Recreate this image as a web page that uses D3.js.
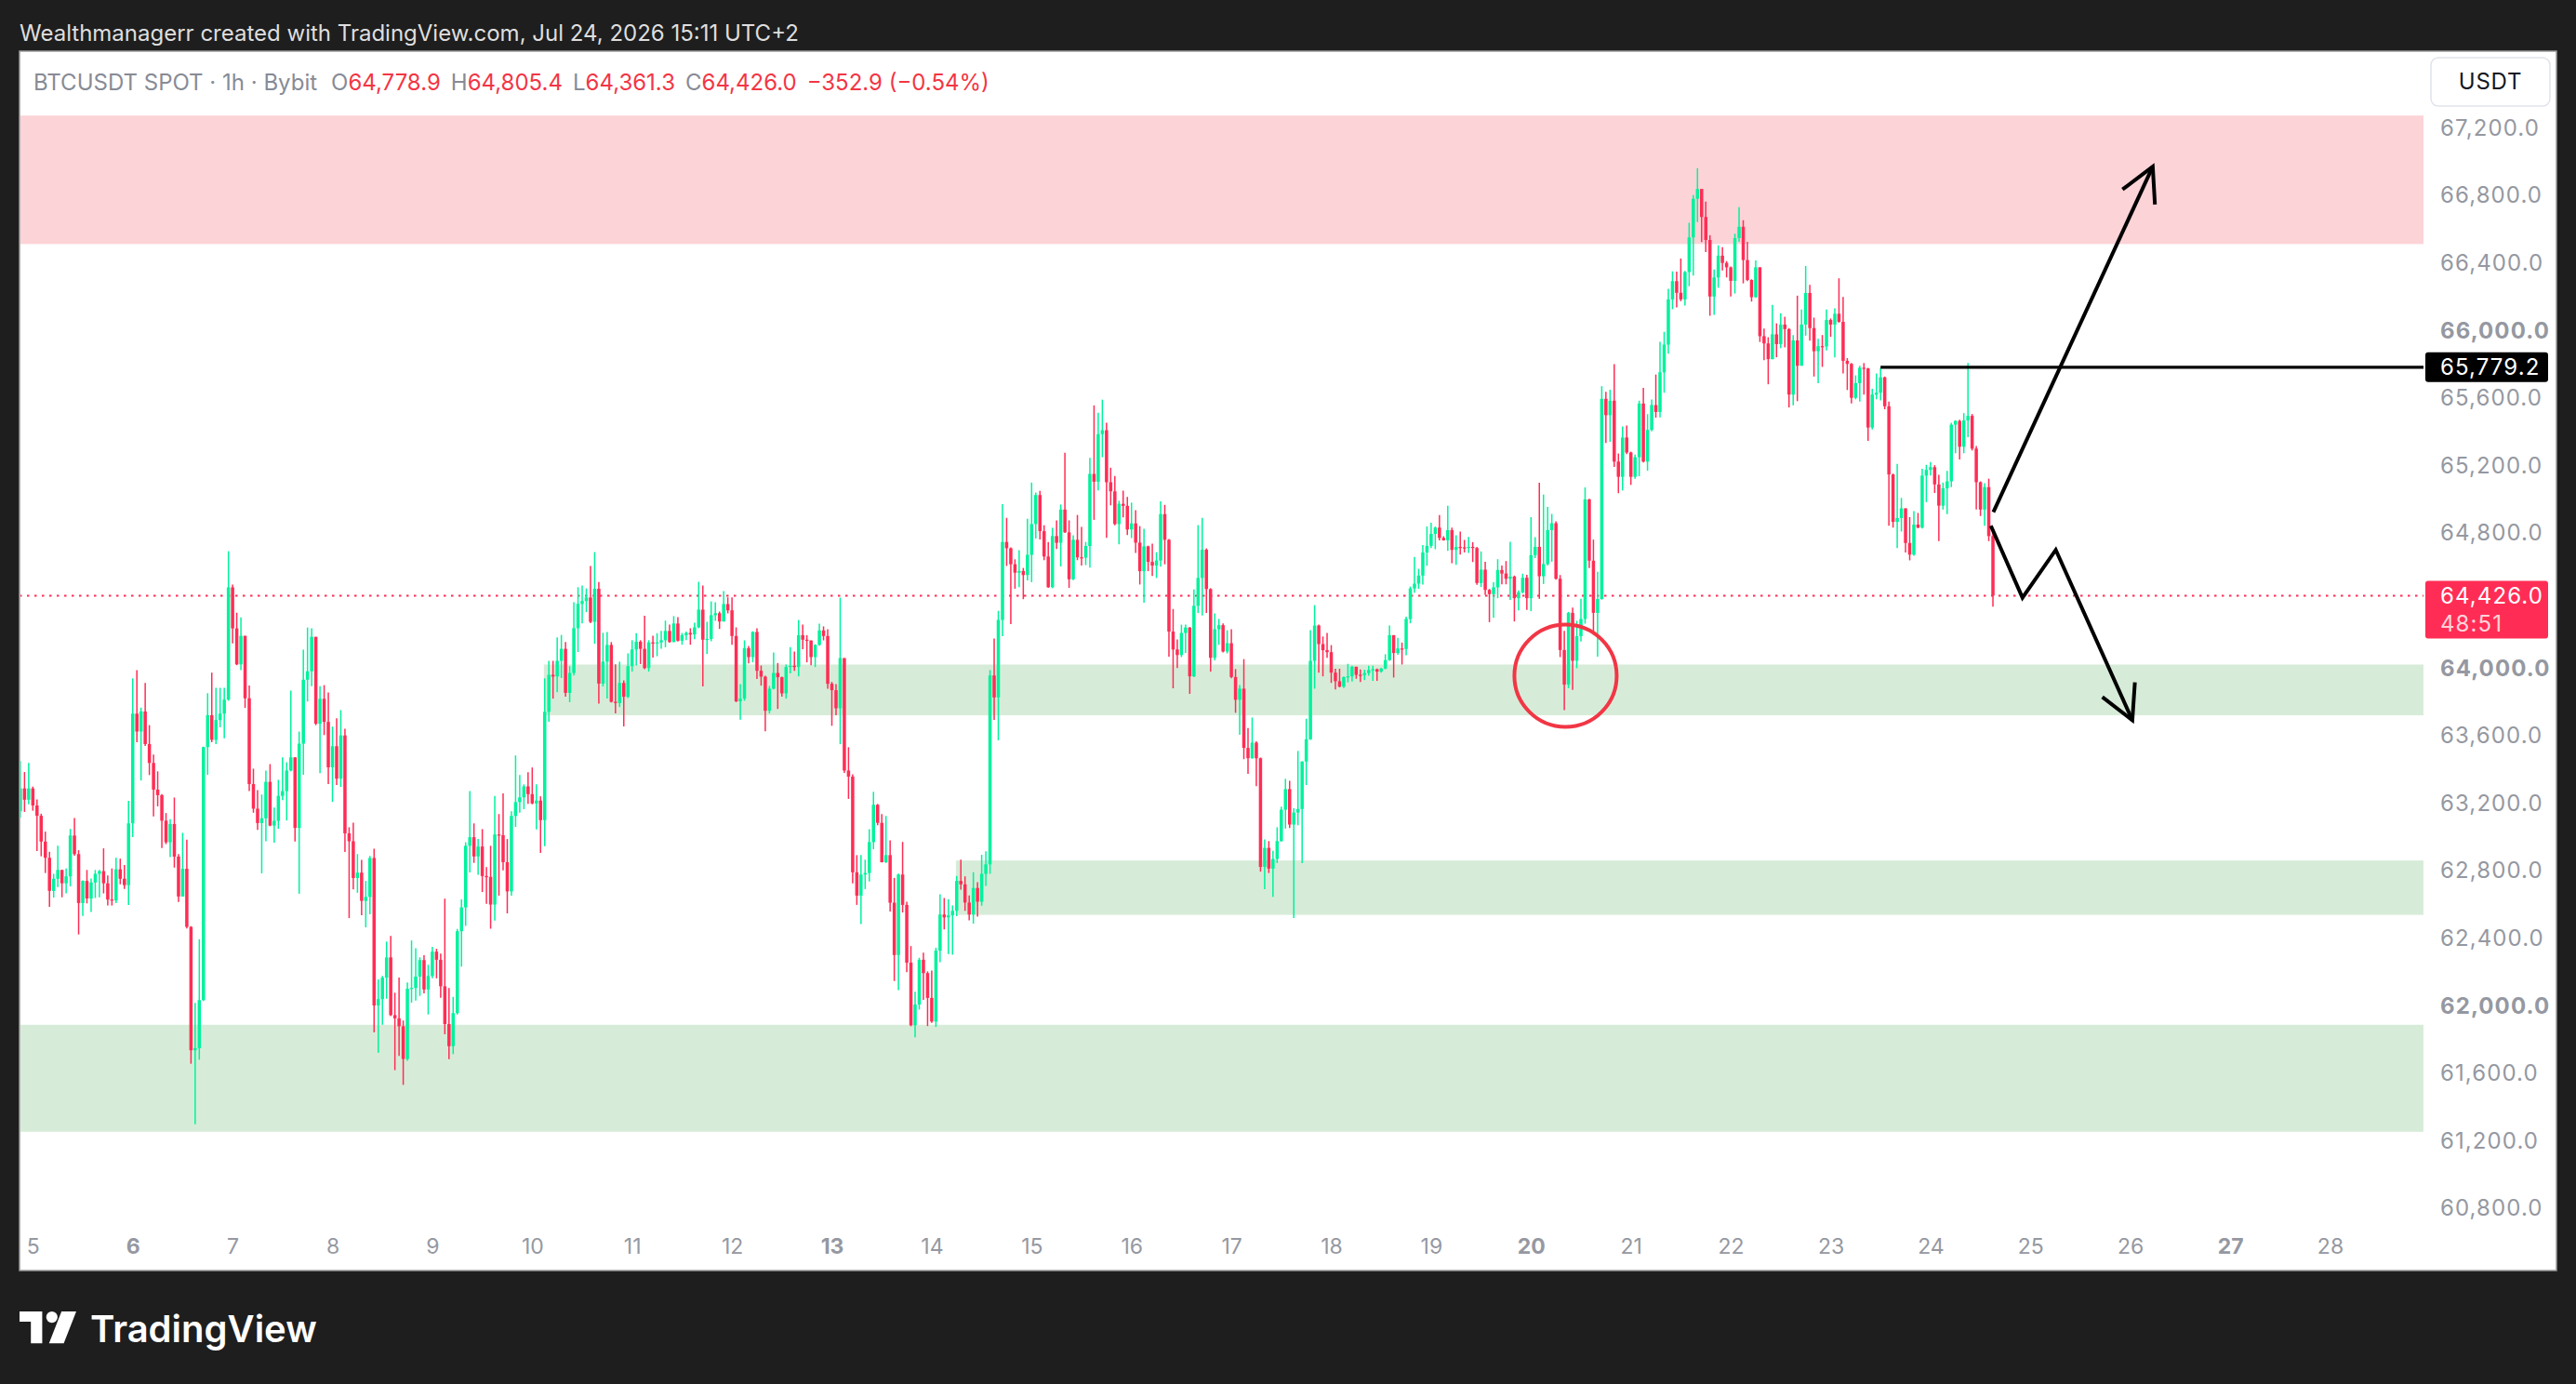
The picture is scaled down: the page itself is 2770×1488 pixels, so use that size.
<!DOCTYPE html>
<html><head><meta charset="utf-8">
<script src="https://cdn.jsdelivr.net/npm/d3@7/dist/d3.min.js"></script>
<style>html,body{margin:0;padding:0;background:#1e1e1e;overflow:hidden}</style>
</head><body><svg id="chart" width="2770" height="1488"></svg>
<script>
// ---------------- DATA ----------------
const headerText = "Wealthmanagerr created with TradingView.com, Jul 24, 2026 15:11 UTC+2";
const symbolText = "BTCUSDT SPOT \u00b7 1h \u00b7 Bybit";
const currencyLabel = "USDT";
const countdownText = "48:51";
// hourly candles, first candle = hour -3 relative to Jul 5 00:00
const firstHour = -3;
const firstOpen = 63149;
const closes = [
63284,63217,63284,63183,63122,62969,62873,62677,62749,62801,62722,62763,63005,62895,62605,62736,62632,62727,62778,62794,62722,62626,62620,62805,62749,62711,63077,63727,63621,63740,63547,63435,63277,63244,63093,62965,63073,62880,62644,62808,62464,61733,61745,62030,63529,63718,63572,63689,63727,63810,64475,64232,64019,
64188,63818,63310,63164,63079,63107,63323,63064,63092,63240,63268,63390,63468,63050,63549,63928,63978,64182,63667,63815,63678,63409,63534,63342,63598,63018,62971,62753,62785,62618,62641,62872,61998,62036,62163,62283,61941,61922,61875,61681,62097,62102,62169,62267,62093,62173,62317,62269,62112,61888,61757,61953,62438,
62579,62944,62995,62881,62940,62765,62760,62596,63011,63007,62847,62674,63121,63203,63231,63296,63250,63195,63212,63096,63738,63957,63947,64040,64111,63850,63968,64233,64377,64394,64415,64271,64467,63905,64035,64134,63797,63790,63909,63827,64008,64107,64153,64111,63997,64149,64145,64149,64162,64217,64151,64261,
64159,64192,64205,64196,64238,64343,64165,64170,64310,64322,64273,64376,64339,64187,63800,63816,64115,64062,64211,63981,63946,63744,63875,63968,63943,63847,64003,64011,64003,64192,64165,64160,64062,64134,64220,64187,63904,63866,63759,64056,63390,63354,62787,62649,62774,62783,62966,63187,63080,62847,62889,62607,62297,62774,
62594,62252,61881,62004,62269,62190,62043,61903,62323,62537,62520,62532,62559,62736,62716,62608,62537,62694,62613,62778,62834,63953,63823,64282,64744,64707,64612,64562,64572,64548,64668,64850,65022,64808,64658,64476,64779,64739,64936,64801,64523,64757,64653,64651,64720,65147,65101,65383,65406,65098,65044,64850,64970,
64958,64818,64854,64740,64571,64718,64626,64604,64634,64909,64757,64213,64107,64074,64205,64237,63948,64366,64531,64698,64465,64058,64227,64251,64095,64144,63944,63809,63875,63524,63463,63555,63463,62819,62932,62809,62866,62972,63158,63280,63070,63141,63162,63443,63575,64040,64249,64139,64103,64091,63970,63919,63887,
63943,63948,64005,63957,63955,63967,63985,63990,63976,63994,64044,64192,64086,64113,64110,64288,64469,64497,64545,64682,64721,64792,64829,64768,64754,64814,64697,64715,64712,64708,64715,64708,64501,64580,64460,64435,64475,64578,64557,64526,64539,64411,64446,64532,64411,64666,64715,64541,64613,64814,64855,64526,64104,
63899,64324,64040,64186,64288,64996,64633,64324,64406,65592,65495,65581,65220,65130,65363,65274,65130,65246,65564,65220,65408,65555,65514,65749,65913,66181,66289,66220,66181,66343,66548,66777,66835,66669,66533,66198,66311,66440,66397,66371,66291,66544,66611,66414,66296,66194,66371,65963,65920,65827,65974,65916,66032,
66005,65617,65938,65788,66032,66219,66011,65874,65904,65902,66059,66032,66096,66048,65817,65799,65598,65685,65776,65772,65422,65617,65628,65719,65548,65144,64863,64886,64943,64738,64669,64847,64829,65137,65171,65187,65085,64959,65062,65103,65439,65461,65308,65464,65491,65297,65098,64936,65069,64778.9,64426.0
];
const highs = [
63446,63381,63435,63295,63219,63134,63028,62909,62778,62945,62801,62810,63044,63109,62918,62740,62801,62751,62801,62801,62929,62769,62810,62873,62868,62830,63210,63936,63985,63763,63909,63659,63484,63385,63250,63138,63102,63230,62895,63021,62981,62468,62014,62390,63531,63848,63970,63880,63880,63880,64689,64491,64325,
64298,64188,63894,63401,63274,63248,63390,63428,63170,63335,63468,63439,63864,63468,63621,64106,64237,64232,64182,63890,63896,63852,63650,63699,63748,63638,63054,63081,62895,62861,62736,62884,62927,62152,62173,62377,62410,62074,62163,61909,62135,62383,62337,62283,62296,62239,62345,62334,62305,62631,62102,62049,62451,
62626,62965,63268,63077,62984,63043,62818,62944,63239,63132,63254,62984,63148,63479,63363,63308,63380,63408,63308,63237,63936,64040,64040,64179,64193,64151,64008,64387,64476,64486,64469,64602,64684,64507,64206,64210,64151,64019,64035,63924,64084,64162,64204,64162,64307,64162,64189,64204,64217,64278,64255,64305,
64299,64205,64214,64233,64266,64508,64486,64271,64392,64387,64332,64453,64416,64416,64238,63902,64161,64128,64215,64233,64012,63952,63891,64089,64027,63946,64018,64121,64095,64282,64255,64192,64161,64138,64260,64244,64227,63915,63902,64414,64056,63528,63368,62889,62889,62862,63043,63264,63192,63132,63121,62977,62754,62779,
62967,62613,62350,62080,62281,62311,62200,62205,62340,62657,62635,62628,62591,62766,62862,62763,62650,62788,62729,62891,62911,63985,64172,64336,64968,64887,64712,64641,64695,64590,64882,65096,65037,65047,64843,64744,64828,64872,64966,65273,64872,64784,64904,64833,64744,65243,65553,65509,65587,65450,65184,65135,64988,
65048,65011,64977,64932,64838,64822,64722,64734,64683,64985,64964,64761,64347,64166,64254,64254,64240,64463,64844,64887,64706,64470,64321,64288,64262,64221,64227,63991,63897,64050,63642,63704,63563,63467,62982,62972,62915,63054,63176,63341,63329,63166,63506,63445,63697,64221,64370,64255,64184,64205,64133,63993,63993,
63948,64022,64011,64005,63989,63987,64011,64011,63994,63999,64079,64249,64192,64176,64148,64302,64480,64655,64585,64726,64836,64858,64836,64904,64778,64958,64829,64783,64805,64756,64774,64743,64715,64688,64627,64466,64506,64642,64605,64631,64745,64545,64457,64556,64550,64891,64772,65095,65025,64952,64910,64866,64548,
64217,64330,64355,64277,64407,65067,65000,64758,64568,65667,65633,65646,65797,65268,65428,65434,65279,65261,65581,65657,65501,65588,65736,65929,65989,66244,66347,66345,66423,66350,66635,66799,66958,66835,66760,66561,66358,66501,66490,66408,66376,66570,66727,66650,66522,66300,66412,66371,66008,65957,66149,66039,66099,
66078,66011,65970,66203,66121,66379,66267,66073,65947,65970,66121,66068,66128,66306,66196,65833,65804,65731,65788,65804,65776,65651,65742,65776,65724,65575,65149,65206,65005,64943,64891,64927,64916,65178,65201,65217,65199,65142,65096,65165,65450,65465,65468,65507,65804,65502,65313,65103,65092,65119,64805.4
];
const lows = [
63111,63145,63190,63152,62913,62882,62783,62583,62637,62700,62639,62662,62704,62886,62419,62529,62603,62552,62635,62639,62662,62590,62590,62605,62716,62689,62594,62996,63558,63331,63536,63363,63118,63178,62931,62954,62877,62815,62612,62644,62455,61653,61295,61677,62025,63365,63558,63547,63646,63581,63803,64143,64014,
63985,63761,63268,63140,63039,62781,62971,63060,62963,63045,63215,63094,63386,62969,62660,63365,63799,63890,63659,63375,63600,63310,63204,63304,63293,62908,62516,62686,62666,62533,62461,62538,61839,61718,61884,62038,61935,61615,61699,61528,61670,62015,62027,62055,62070,61945,62159,62159,62044,61828,61680,61710,61945,
62228,62470,62786,62843,62773,62670,62601,62453,62501,62649,62799,62544,62649,63056,63140,63161,63193,63190,63041,62902,62942,63679,63816,63854,63938,63827,63795,63953,64092,64261,64328,64263,64141,63787,63888,63816,63793,63728,63766,63652,63820,63976,64012,64021,63990,63976,64059,64067,64111,64120,64147,64151,
64154,64135,64163,64135,64168,64233,63888,64080,64156,64277,64229,64273,64321,64135,63795,63691,63803,64025,64031,63932,63893,63623,63728,63870,63755,63827,63816,63965,63981,63948,64108,64031,64014,64003,64130,64161,63875,63655,63717,63546,63376,63222,62721,62594,62480,62688,62732,62924,63066,62845,62842,62555,62143,62089,
62549,62195,61875,61810,61974,62031,61876,61895,61871,62254,62449,62303,62299,62527,62684,62559,62503,62483,62525,62589,62707,62778,63690,63569,64186,64602,64258,64467,64476,64405,64516,64506,64764,64759,64636,64472,64470,64703,64599,64798,64472,64518,64636,64604,64607,64592,64875,65049,65246,64769,64961,64843,64730,
64889,64785,64767,64679,64492,64384,64571,64543,64531,64598,64612,64064,63877,63997,64062,64087,63844,63944,64323,64309,64323,63976,64042,64135,64090,64084,63936,63732,63602,63457,63370,63460,63298,62791,62687,62783,62642,62842,62968,63046,63050,62516,63066,62842,63304,63571,63875,63970,63948,64058,63909,63871,63883,
63879,63912,63917,63934,63915,63926,63952,63921,63921,63970,63990,64040,63941,64075,64018,64073,64262,64444,64466,64491,64603,64708,64701,64754,64752,64691,64618,64609,64669,64682,64679,64625,64490,64477,64430,64269,64295,64411,64493,64493,64401,64273,64339,64440,64341,64334,64649,64407,64495,64605,64627,64520,64062,
63748,63878,63867,63996,64154,64260,64590,64195,64065,64402,65331,65337,65188,65033,65050,65264,65082,65119,65134,65215,65166,65400,65480,65482,65628,65859,66123,66134,66170,66145,66259,66322,66639,66520,66462,66084,66090,66250,66352,66311,66198,66216,66522,66276,66289,66168,66190,65929,65821,65678,65827,65838,65892,
65897,65541,65553,65578,65788,65966,65936,65724,65685,65781,65879,65959,65838,66043,65742,65644,65564,65589,65575,65617,65343,65411,65589,65582,65530,64840,64829,64708,64806,64681,64635,64662,64825,64824,64980,65137,65034,64749,64936,64909,65069,65270,65233,65270,65365,65286,64936,64898,64840,64749,64361.3
];
// axis labels
const dayLabels = [5,6,7,8,9,10,11,12,13,14,15,16,17,18,19,20,21,22,23,24,25,26,27,28];
const boldDays = [6,13,20,27];
const priceTicks = [60800,61200,61600,62000,62400,62800,63200,63600,64000,64400,64800,65200,65600,66000,66400,66800,67200];
const boldPrices = [62000,64000,66000];
// zones (price bands); startHour null = from the left edge
const zoneHigh = [67270, 64018, 62857, 61884];
const zoneLow = [66509, 63717, 62535, 61250];
const zoneStartHour = [null, 122.8, 221.8, null];
const zoneKind = ['supply','demand','demand','demand'];
// drawings
const levelPrice = 65779.2;
const levelStartHour = 444;
const circleHour = 368.3, circlePrice = 63952;
const upArrow = [[471.1, 64921], [509.4, 66968]];
const downArrow = [[470.5, 64840], [478.1, 64414], [486.1, 64697], [504.5, 63688]];

// ---------------- DRAW ----------------
const W = 2770, H = 1488;
const FONT = "Inter, 'Noto Sans', 'DejaVu Sans', sans-serif";
const GREEN = "#00f29d", RED = "#ff2d55", LEGRED = "#f23645";
const svg = d3.select('#chart');
svg.append('rect').attr('width', W).attr('height', H).attr('fill', '#1e1e1e');

svg.append('text').attr('x', 21).attr('y', 44).attr('fill', '#dedede')
  .attr('font-size', 24).attr('font-family', FONT).text(headerText);

const panel = {x: 21, y: 55, w: 2728, h: 1311};
svg.append('rect').attr('x', panel.x).attr('y', panel.y).attr('width', panel.w).attr('height', panel.h)
  .attr('fill', '#ffffff').attr('stroke', '#9a9a9a').attr('stroke-width', 1.5);

const plot = {left: 21, right: 2606, top: 56, bottom: 1321};
const x = d3.scaleLinear().domain([-3.2, 574.46]).range([plot.left, plot.right]);
const y = d3.scaleLinear().domain([60676, 67646]).range([plot.bottom, plot.top]);

const defs = svg.append('defs');
defs.append('clipPath').attr('id', 'plotclip').append('rect')
  .attr('x', plot.left + 1).attr('y', plot.top).attr('width', plot.right - plot.left - 1).attr('height', plot.bottom - plot.top);
const mk = defs.append('marker').attr('id', 'chev').attr('viewBox', '-12 -7 14 14')
  .attr('refX', 0).attr('refY', 0).attr('markerWidth', 14).attr('markerHeight', 14)
  .attr('orient', 'auto').attr('markerUnits', 'strokeWidth').style('overflow', 'visible');
mk.append('path').attr('d', 'M-9,-4.8 L0,0 L-9,4.8').attr('fill', 'none').attr('stroke', '#000')
  .attr('stroke-width', 1).attr('stroke-linejoin', 'miter');

const g = svg.append('g').attr('clip-path', 'url(#plotclip)');

// zones
zoneHigh.forEach((hi, i) => {
  const x0 = zoneStartHour[i] === null ? plot.left : x(zoneStartHour[i]);
  g.append('rect').attr('x', x0).attr('y', y(hi)).attr('width', plot.right - x0)
    .attr('height', y(zoneLow[i]) - y(hi))
    .attr('fill', zoneKind[i] === 'supply' ? '#fcd3d7' : '#d7ecd8');
});

// last price dotted line
const n = closes.length;
const lastClose = closes[n - 1], prevClose = closes[n - 2];
g.append('line').attr('x1', plot.left).attr('x2', plot.right).attr('y1', y(lastClose)).attr('y2', y(lastClose))
  .attr('stroke', RED).attr('stroke-width', 2).attr('stroke-dasharray', '2.5,5.5');

// candles
const candles = closes.map((c, i) => {
  const o = i === 0 ? firstOpen : closes[i - 1];
  return {h: firstHour + i, o, c, hi: Math.max(highs[i], o, c), lo: Math.min(lows[i], o, c)};
});
const cg = g.append('g');
const bodyW = 3.5;
cg.selectAll('line.wick').data(candles).join('line').attr('class', 'wick')
  .attr('x1', d => x(d.h)).attr('x2', d => x(d.h))
  .attr('y1', d => y(d.hi)).attr('y2', d => y(d.lo))
  .attr('stroke', d => d.c >= d.o ? GREEN : RED).attr('stroke-width', 1.5);
cg.selectAll('rect.body').data(candles).join('rect').attr('class', 'body')
  .attr('x', d => x(d.h) - bodyW / 2).attr('width', bodyW)
  .attr('y', d => y(Math.max(d.o, d.c)))
  .attr('height', d => Math.max(1.2, y(Math.min(d.o, d.c)) - y(Math.max(d.o, d.c))))
  .attr('fill', d => d.c >= d.o ? GREEN : RED);

// drawings
g.append('line').attr('x1', x(levelStartHour)).attr('x2', plot.right)
  .attr('y1', y(levelPrice)).attr('y2', y(levelPrice)).attr('stroke', '#000').attr('stroke-width', 3.2);
g.append('circle').attr('cx', x(circleHour)).attr('cy', y(circlePrice)).attr('r', 55)
  .attr('fill', 'none').attr('stroke', '#f23645').attr('stroke-width', 4);
const line = d3.line().x(d => x(d[0])).y(d => y(d[1]));
g.append('path').attr('d', line(upArrow)).attr('fill', 'none').attr('stroke', '#000')
  .attr('stroke-width', 4).attr('marker-end', 'url(#chev)');
g.append('path').attr('d', line(downArrow)).attr('fill', 'none').attr('stroke', '#000')
  .attr('stroke-width', 4).attr('stroke-linejoin', 'miter').attr('marker-end', 'url(#chev)');

// price axis
const fmt = d3.format(',.1f');
const yAxis = d3.axisRight(y).tickValues(priceTicks).tickFormat(fmt).tickSize(0).tickPadding(0);
const ya = svg.append('g').attr('transform', `translate(2624,0)`).call(yAxis);
ya.select('.domain').remove();
ya.selectAll('text').attr('font-family', FONT).attr('font-size', 24).attr('fill', '#9598a1')
  .attr('letter-spacing', 1.1)
  .attr('font-weight', d => boldPrices.includes(d) ? 700 : 400).attr('dy', '0.35em');

// time axis
const xAxis = d3.axisBottom(x).tickValues(dayLabels.map(d => (d - 5) * 24))
  .tickFormat(h => String(h / 24 + 5)).tickSize(0).tickPadding(11);
const xa = svg.append('g').attr('transform', `translate(0,${plot.bottom})`).call(xAxis);
xa.select('.domain').remove();
xa.selectAll('text').attr('font-family', FONT).attr('font-size', 23).attr('fill', '#9598a1')
  .attr('font-weight', h => boldDays.includes(h / 24 + 5) ? 700 : 400);

// level badge
svg.append('rect').attr('x', 2608).attr('y', y(levelPrice) - 16).attr('width', 132).attr('height', 32)
  .attr('rx', 3).attr('fill', '#000');
svg.append('text').attr('x', 2624).attr('y', y(levelPrice)).attr('dy', '0.35em').attr('fill', '#fff')
  .attr('letter-spacing', 1.1).attr('font-family', FONT).attr('font-size', 24).text(fmt(levelPrice));
// last price badge
svg.append('rect').attr('x', 2608).attr('y', y(lastClose) - 16).attr('width', 132).attr('height', 62)
  .attr('rx', 3).attr('fill', RED);
svg.append('text').attr('x', 2624).attr('y', y(lastClose)).attr('dy', '0.35em').attr('fill', '#fff')
  .attr('letter-spacing', 1.1).attr('font-family', FONT).attr('font-size', 24).text(fmt(lastClose));
svg.append('text').attr('x', 2624).attr('y', y(lastClose) + 30).attr('dy', '0.35em').attr('fill', '#fff')
  .attr('letter-spacing', 1.1).attr('fill-opacity', 0.8).attr('font-family', FONT).attr('font-size', 24).text(countdownText);

// currency button
svg.append('rect').attr('x', 2614).attr('y', 62).attr('width', 128).attr('height', 52).attr('rx', 8)
  .attr('fill', '#fff').attr('stroke', '#e0e3eb').attr('stroke-width', 1.5);
svg.append('text').attr('x', 2678).attr('y', 88).attr('dy', '0.35em').attr('text-anchor', 'middle')
  .attr('fill', '#131722').attr('font-family', FONT).attr('font-size', 24).attr('letter-spacing', 0.8).text(currencyLabel);

// legend
const lastO = prevClose, lastH = highs[n - 1], lastL = lows[n - 1];
const chg = lastClose - lastO;
const leg = svg.append('text').attr('x', 36).attr('y', 97).attr('font-family', FONT).attr('font-size', 24);
leg.append('tspan').attr('fill', '#878b96').text(symbolText);
[['O', lastO], ['H', lastH], ['L', lastL], ['C', lastClose]].forEach(([k, v], i) => {
  leg.append('tspan').attr('fill', '#878b96').attr('dx', i === 0 ? 15 : 11).text(k);
  leg.append('tspan').attr('fill', LEGRED).text(fmt(v));
});
leg.append('tspan').attr('fill', LEGRED).attr('dx', 11)
  .text(`${fmt(chg)} (${d3.format('.2f')(chg / lastO * 100)}%)`);

// TradingView logo
const logo = svg.append('g').attr('transform', 'translate(21,1410) scale(1.22)').attr('fill', '#fff');
logo.append('path').attr('d', 'M0 0 H20 V28 H10 V9 H0 Z');
logo.append('circle').attr('cx', 28.5).attr('cy', 5).attr('r', 5);
logo.append('path').attr('d', 'M37 0 H50 L39 28 H26 Z');
svg.append('text').attr('x', 97).attr('y', 1443).attr('fill', '#fff').attr('font-family', FONT)
  .attr('font-size', 40).attr('font-weight', 600).attr('letter-spacing', 0).text('TradingView');
</script></body></html>
